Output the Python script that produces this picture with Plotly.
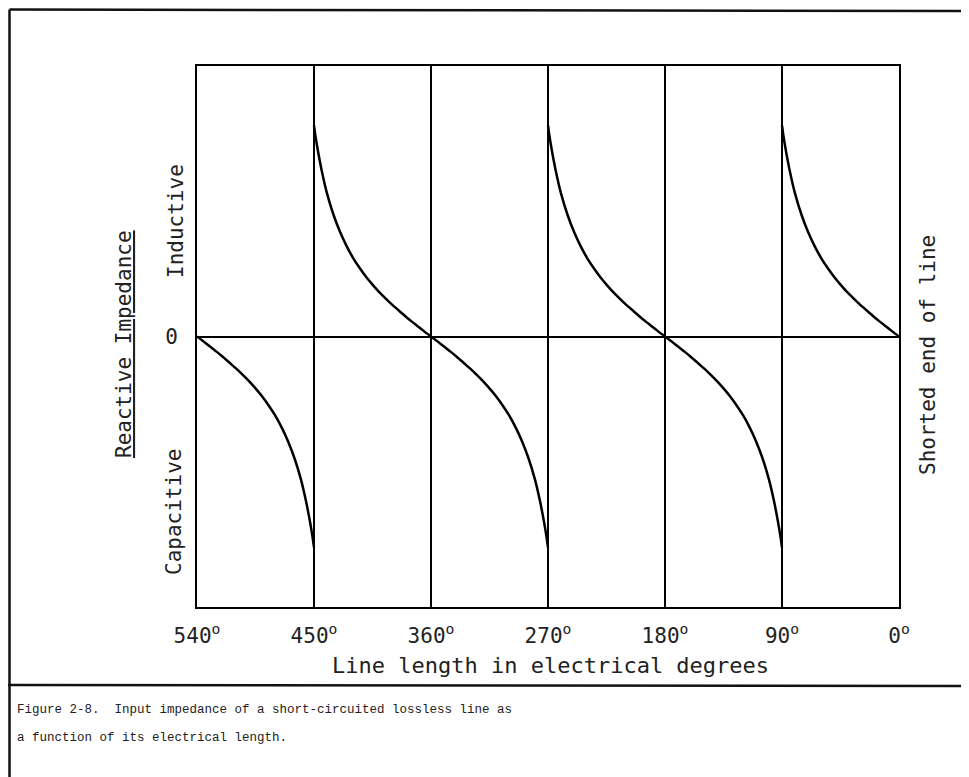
import plotly.graph_objects as go

# ---- data ----
x_tick_vals = [540, 450, 360, 270, 180, 90, 0]
x_tick_text = ["540<sup>o</sup>", "450<sup>o</sup>", "360<sup>o</sup>", "270<sup>o</sup>",
               "180<sup>o</sup>", "90<sup>o</sup>", "0<sup>o</sup>"]
grid_vals = [450, 360, 270, 180, 90]
# quarter-wave reactance profile (degrees from the zero crossing, relative value)
quarter_deg = [0, 5, 10, 15, 20, 25, 30, 35, 40, 45, 50, 55, 60, 65, 70, 75, 80, 84, 87, 88, 89, 90]
quarter_val = [0, 0.018, 0.037, 0.056, 0.076, 0.097, 0.118, 0.141, 0.165, 0.192, 0.221, 0.254,
               0.291, 0.335, 0.387, 0.450, 0.529, 0.612, 0.687, 0.715, 0.745, 0.78]
# branches: (degree of the zero crossing, direction along x, sign of reactance)
branches = [(0, 1, 1), (180, -1, -1), (180, 1, 1), (360, -1, -1), (360, 1, 1), (540, -1, -1)]

OFF = 8  # page body margin
W, H = 969, 777
L, R, T, B = 197, 899, 66, 607


def px(x):
    return (x - L) / (R - L)


def py(y):
    return (B - y) / (B - T)


fig = go.Figure()
for start, direction, sign in branches:
    fig.add_trace(go.Scatter(
        x=[start + direction * d for d in quarter_deg],
        y=[sign * v for v in quarter_val],
        mode="lines", line=dict(color="black", width=2.5, shape="spline", smoothing=0.6),
        showlegend=False, hoverinfo="skip"))

mono = "DejaVu Sans Mono"
fig.update_layout(
    width=W - OFF, height=H - OFF,
    margin=dict(l=L - OFF, r=W - R, t=T - OFF, b=H - B),
    paper_bgcolor="white", plot_bgcolor="white",
    showlegend=False,
    xaxis=dict(range=[540, 0], tickvals=x_tick_vals, ticktext=x_tick_text,
               showgrid=False, zeroline=False, showline=True, mirror=True,
               linecolor="black", linewidth=2, ticks="", ticklabelstandoff=9,
               tickfont=dict(family=mono, size=21, color="#222")),
    yaxis=dict(range=[-1, 1], tickvals=[0], ticktext=["0"],
               showgrid=False, zeroline=True, zerolinecolor="black", zerolinewidth=2,
               showline=True, mirror=True, linecolor="black", linewidth=2, ticks="",
               ticklabelstandoff=13,
               tickfont=dict(family=mono, size=21, color="#222")),
)

shapes = []
for g in grid_vals:
    shapes.append(dict(type="line", xref="x", yref="paper", x0=g, x1=g, y0=0, y1=1,
                       line=dict(color="black", width=2), layer="above"))
# outer frame and caption separator
shapes.append(dict(type="line", xref="paper", yref="paper", x0=px(9.5), x1=px(969), y0=py(9.5), y1=py(11),
                   line=dict(color="#111", width=2.5)))
shapes.append(dict(type="line", xref="paper", yref="paper", x0=px(9.5), x1=px(9.5), y0=py(9.5), y1=py(777),
                   line=dict(color="#111", width=2.5)))
shapes.append(dict(type="line", xref="paper", yref="paper", x0=px(8), x1=px(969), y0=py(685), y1=py(686),
                   line=dict(color="#111", width=2.5)))
fig.update_layout(shapes=shapes)

ann = []


def text(x, y, s, size=21, angle=0, xanchor="center", family=mono, yanchor="middle"):
    ann.append(dict(x=px(x), y=py(y), xref="paper", yref="paper", text=s, showarrow=False,
                    textangle=angle, xanchor=xanchor, yanchor=yanchor,
                    font=dict(family=family, size=size, color="#222")))


text(550, 665, "Line length in electrical degrees", size=22)
text(176, 221, "Inductive", angle=-90)
text(174, 512, "Capacitive", angle=-90)
text(124, 344, "<u>Reactive Impedance</u>", angle=-90)
text(928, 355, "Shorted end of line", angle=-90)
text(15, 710, "Figure 2-8.  Input impedance of a short-circuited lossless line as",
     size=12.5, xanchor="left", family="Liberation Mono")
text(15, 738, "a function of its electrical length.",
     size=12.5, xanchor="left", family="Liberation Mono")
fig.update_layout(annotations=ann)

fig.write_html("out.html")
